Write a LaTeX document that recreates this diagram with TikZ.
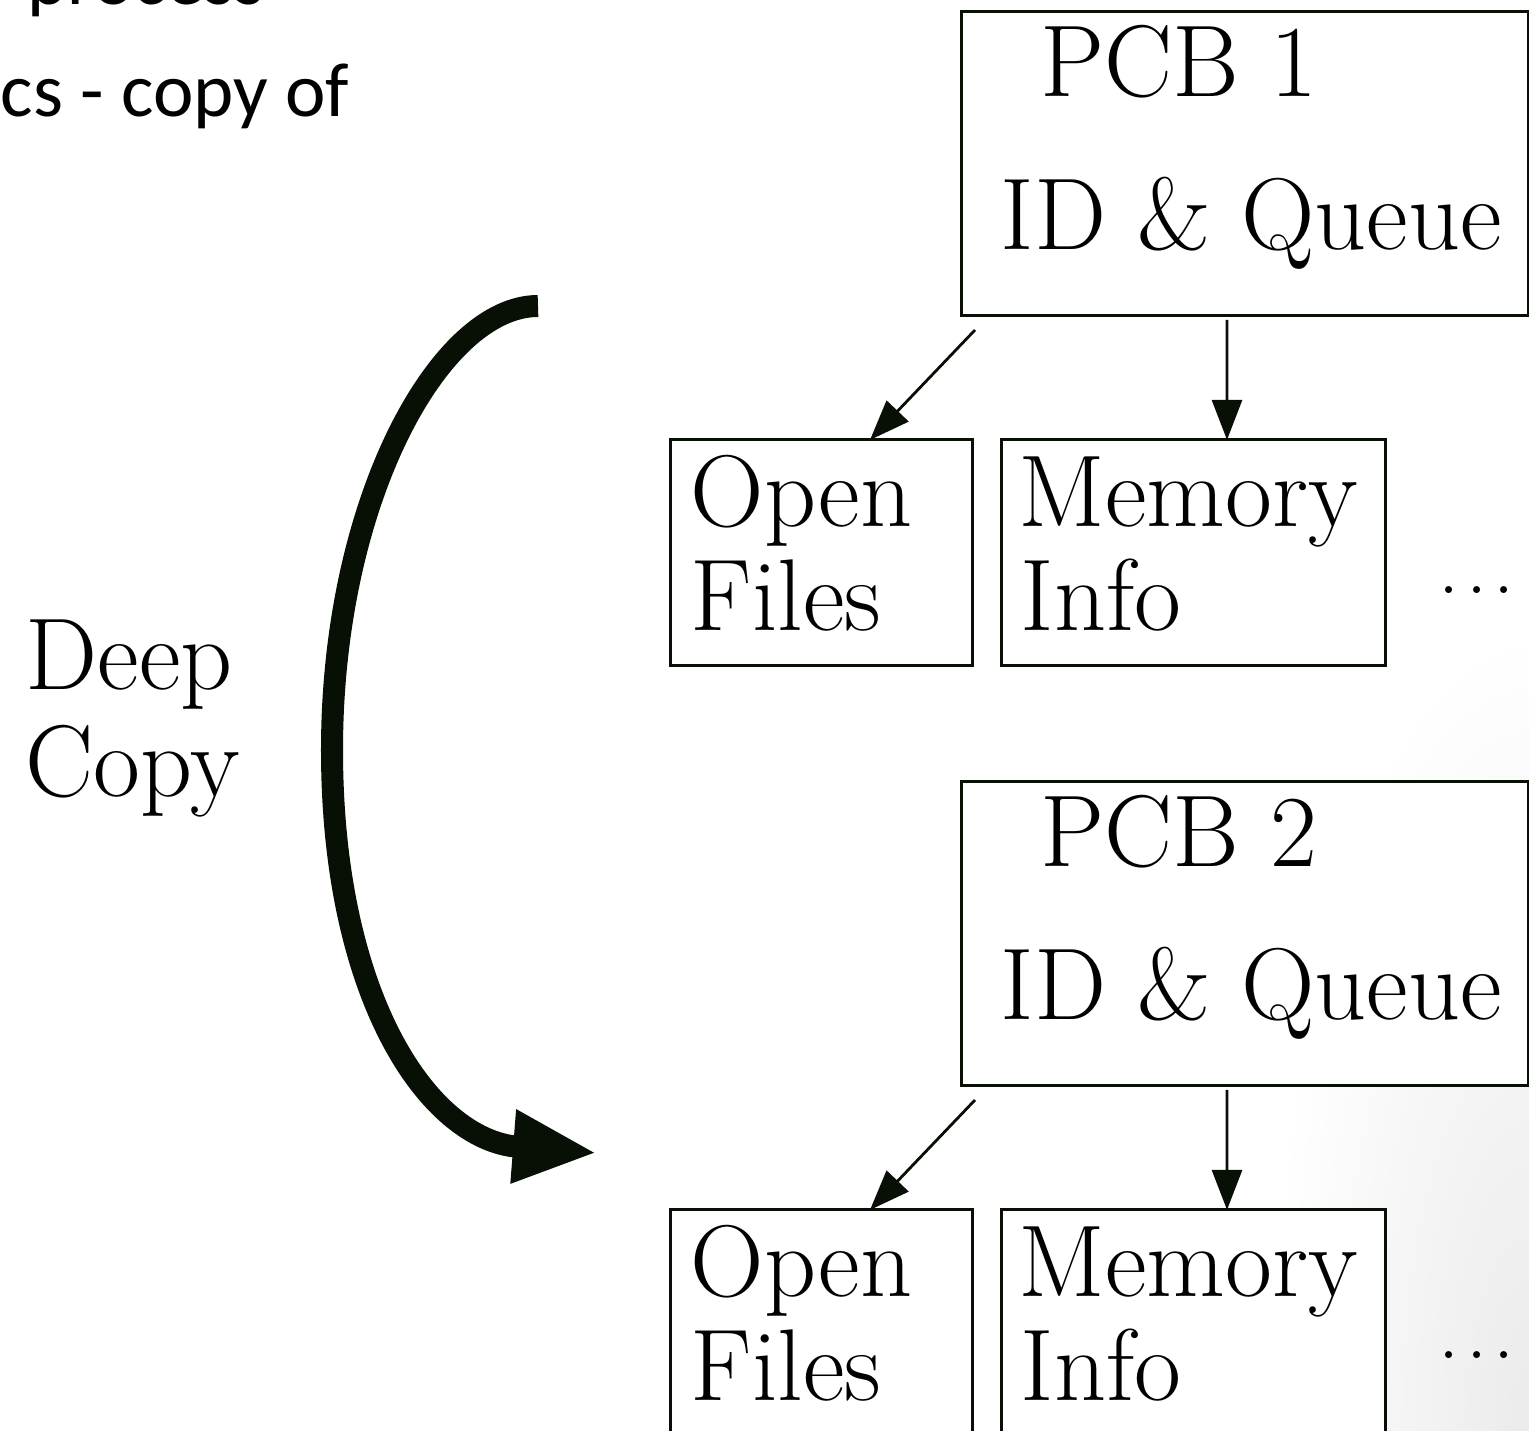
\documentclass[tikz,border=0pt]{standalone}
\usepackage{fontspec}
\newfontfamily\slidesans{Carlito}
\usetikzlibrary{arrows.meta,calc}
\definecolor{ink}{RGB}{8,16,6}
\begin{document}
\begin{tikzpicture}[x=0.01cm,y=-0.01cm,
  box/.style={draw=ink, fill=white, line width=0.03cm, inner sep=0pt, outer sep=0pt},
  lbl/.style={anchor=base west, inner sep=0pt, text=black,
              font=\fontsize{29}{32}\selectfont},
  sanslbl/.style={anchor=base west, inner sep=0pt, text=black,
              font=\slidesans\fontsize{21.8}{26}\selectfont},
  more/.style={inner sep=0pt, text=black, font=\fontsize{24}{28}\selectfont},
  ptr/.style={draw=ink, line width=0.028cm,
              -{Triangle[length=0.4cm,width=0.3cm]}},
  bigptr/.style={draw=ink, line width=0.22cm,
              -{Triangle[length=0.84cm,width=0.68cm]}}]
\useasboundingbox (0,0) rectangle (1529,1431);
\clip (0,0) rectangle (1529,1431);

% soft slide background in the lower right corner
\shade[inner color=black!8, outer color=white]
  (1529,1431) ellipse [x radius=2.6cm, y radius=8cm];

% slide text above the figure
\node[sanslbl] (line1) at (27,5) {process};
\node[sanslbl] (line2) at (0,117) {cs - copy of};

% parent process control block and its resources
\node[box, minimum width=5.66cm, minimum height=3.03cm] (pcb1) at (1245,163.5) {};
\node[lbl] (pcb1name) at (1040,97) {PCB 1};
\node[lbl] (pcb1id) at (1000,250) {ID \& Queue};

\node[box, minimum width=3.01cm, minimum height=2.25cm] (open1) at (821.5,552.5) {};
\node[lbl] (open1a) at (690,527) {Open};
\node[lbl] (open1b) at (690,631) {Files};

\node[box, minimum width=3.83cm, minimum height=2.25cm] (mem1) at (1193.5,552.5) {};
\node[lbl] (mem1a) at (1018,527) {Memory};
\node[lbl] (mem1b) at (1020,631) {Info};

\node[more] (more1) at (1477,590) {.\kern.077em.\kern.077em.};

% child process control block and its copied resources
\node[box, minimum width=5.66cm, minimum height=3.03cm] (pcb2) at (1245,933.5) {};
\node[lbl] (pcb2name) at (1040,867) {PCB 2};
\node[lbl] (pcb2id) at (1000,1020) {ID \& Queue};

\node[box, minimum width=3.01cm, minimum height=2.25cm] (open2) at (821.5,1322.5) {};
\node[lbl] (open2a) at (690,1297) {Open};
\node[lbl] (open2b) at (690,1401) {Files};

\node[box, minimum width=3.83cm, minimum height=2.25cm] (mem2) at (1193.5,1322.5) {};
\node[lbl] (mem2a) at (1018,1297) {Memory};
\node[lbl] (mem2b) at (1020,1401) {Info};

\node[more] (more2) at (1477,1355) {.\kern.077em.\kern.077em.};

% pointers from each block to its resources
\coordinate (d1) at (975,330);
\coordinate (v1) at (1227,320);
\draw[ptr] (d1) -- ([xshift=1.99cm]open1.north west);
\draw[ptr] (v1) -- ([xshift=2.25cm]mem1.north west);

\coordinate (d2) at (975,1100);
\coordinate (v2) at (1227,1090);
\draw[ptr] (d2) -- ([xshift=1.99cm]open2.north west);
\draw[ptr] (v2) -- ([xshift=2.25cm]mem2.north west);

% the deep copy arrow
\node[lbl] (deep) at (25,690) {Deep};
\node[lbl] (copy) at (25,797) {Copy};
\coordinate (cstart) at (538,306);
\coordinate (cend) at (597,1153);
\draw[bigptr] (cstart) .. controls (440,306) and (332,500) .. (332,750)
  .. controls (332,1000) and (430,1140) .. (cend);
\end{tikzpicture}
\end{document}
